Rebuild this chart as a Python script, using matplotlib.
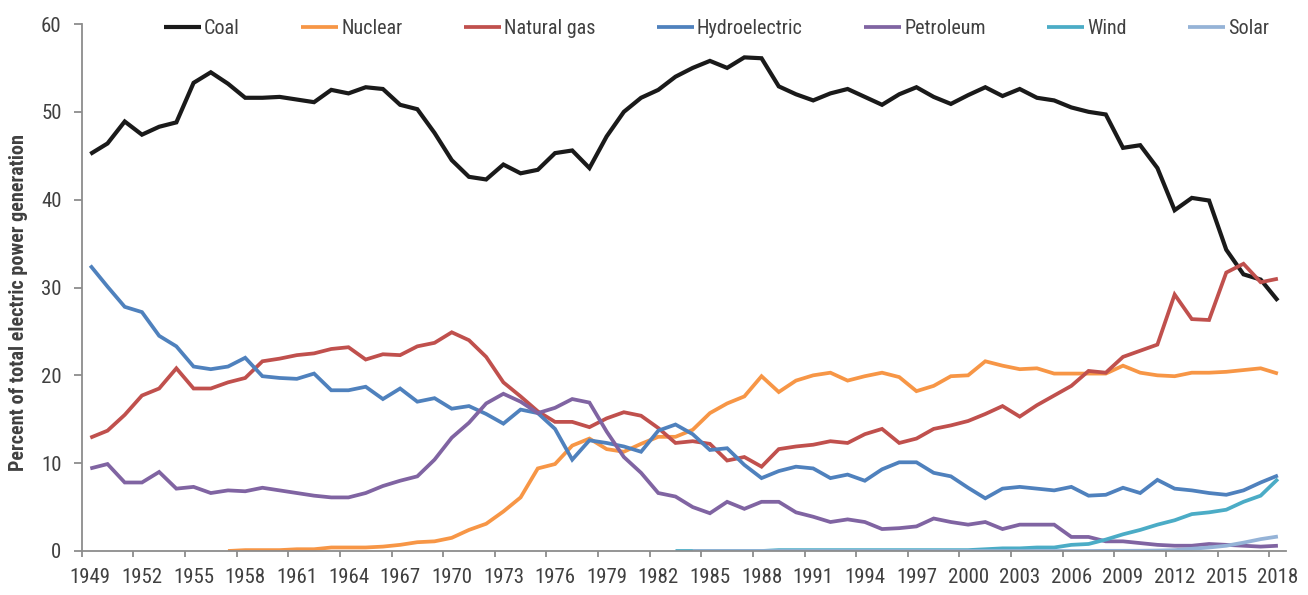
import matplotlib
matplotlib.use("Agg")
import matplotlib.pyplot as plt
import numpy as np
from matplotlib import font_manager

years = list(range(1949, 2019))

coal = [45.2, 46.4, 48.9, 47.4, 48.3, 48.8, 53.3, 54.5, 53.2, 51.6,
        51.6, 51.7, 51.4, 51.1, 52.5, 52.1, 52.8, 52.6, 50.8, 50.3,
        47.6, 44.5, 42.6, 42.3, 44.0, 43.0, 43.4, 45.3, 45.6, 43.6,
        47.2, 50.0, 51.6, 52.5, 54.0, 55.0, 55.8, 55.0, 56.2, 56.1,
        52.9, 52.0, 51.3, 52.1, 52.6, 51.7, 50.8, 52.0, 52.8, 51.7,
        50.9, 51.9, 52.8, 51.8, 52.6, 51.6, 51.3, 50.5, 50.0, 49.7,
        45.9, 46.2, 43.6, 38.8, 40.2, 39.9, 34.3, 31.5, 30.9, 28.5]

nuclear_years = list(range(1957, 2019))
nuclear = [0.0, 0.1, 0.1, 0.1, 0.2, 0.2, 0.4, 0.4, 0.4, 0.5,
           0.7, 1.0, 1.1, 1.5, 2.4, 3.1, 4.5, 6.1, 9.4, 9.9,
           12.0, 12.8, 11.6, 11.3, 12.2, 13.0, 13.0, 13.8, 15.7, 16.8,
           17.6, 19.9, 18.1, 19.4, 20.0, 20.3, 19.4, 19.9, 20.3, 19.8,
           18.2, 18.8, 19.9, 20.0, 21.6, 21.1, 20.7, 20.8, 20.2, 20.2,
           20.2, 20.2, 21.1, 20.3, 20.0, 19.9, 20.3, 20.3, 20.4, 20.6,
           20.8, 20.2]

natural_gas = [12.9, 13.7, 15.5, 17.7, 18.5, 20.8, 18.5, 18.5, 19.2, 19.7,
               21.6, 21.9, 22.3, 22.5, 23.0, 23.2, 21.8, 22.4, 22.3, 23.3,
               23.7, 24.9, 24.0, 22.1, 19.2, 17.6, 15.9, 14.7, 14.7, 14.1,
               15.1, 15.8, 15.4, 14.0, 12.3, 12.5, 12.2, 10.3, 10.7, 9.6,
               11.6, 11.9, 12.1, 12.5, 12.3, 13.3, 13.9, 12.3, 12.8, 13.9,
               14.3, 14.8, 15.6, 16.5, 15.3, 16.6, 17.7, 18.8, 20.5, 20.3,
               22.1, 22.8, 23.5, 29.2, 26.4, 26.3, 31.7, 32.7, 30.6, 31.0]

hydroelectric = [32.5, 30.1, 27.8, 27.2, 24.5, 23.3, 21.0, 20.7, 21.0, 22.0,
                 19.9, 19.7, 19.6, 20.2, 18.3, 18.3, 18.7, 17.3, 18.5, 17.0,
                 17.4, 16.2, 16.5, 15.6, 14.5, 16.1, 15.7, 13.9, 10.4, 12.6,
                 12.3, 11.9, 11.3, 13.7, 14.4, 13.3, 11.5, 11.7, 9.8, 8.3,
                 9.1, 9.6, 9.4, 8.3, 8.7, 8.0, 9.3, 10.1, 10.1, 8.9,
                 8.5, 7.2, 6.0, 7.1, 7.3, 7.1, 6.9, 7.3, 6.3, 6.4,
                 7.2, 6.6, 8.1, 7.1, 6.9, 6.6, 6.4, 6.9, 7.8, 8.6]

petroleum = [9.4, 9.9, 7.8, 7.8, 9.0, 7.1, 7.3, 6.6, 6.9, 6.8,
             7.2, 6.9, 6.6, 6.3, 6.1, 6.1, 6.6, 7.4, 8.0, 8.5,
             10.4, 12.9, 14.6, 16.8, 17.9, 17.0, 15.7, 16.3, 17.3, 16.9,
             13.6, 10.7, 8.9, 6.6, 6.2, 5.0, 4.3, 5.6, 4.8, 5.6,
             5.6, 4.4, 3.9, 3.3, 3.6, 3.3, 2.5, 2.6, 2.8, 3.7,
             3.3, 3.0, 3.3, 2.5, 3.0, 3.0, 3.0, 1.6, 1.6, 1.1,
             1.1, 0.9, 0.7, 0.6, 0.6, 0.8, 0.7, 0.6, 0.5, 0.6]

wind_years = list(range(1983, 2019))
wind = [0.0, 0.0, 0.0, 0.0, 0.0, 0.0, 0.1, 0.1, 0.1, 0.1,
        0.1, 0.1, 0.1, 0.1, 0.1, 0.1, 0.1, 0.1, 0.2, 0.3,
        0.3, 0.4, 0.4, 0.7, 0.8, 1.3, 1.9, 2.4, 3.0, 3.5,
        4.2, 4.4, 4.7, 5.6, 6.3, 8.2]

solar_years = list(range(1984, 2019))
solar = [0.0, 0.0, 0.0, 0.0, 0.0, 0.0, 0.0, 0.0, 0.0, 0.0,
         0.0, 0.0, 0.0, 0.0, 0.0, 0.0, 0.0, 0.0, 0.0, 0.0,
         0.0, 0.0, 0.0, 0.0, 0.02, 0.02, 0.03, 0.05, 0.1, 0.25,
         0.4, 0.6, 0.95, 1.35, 1.65]

tick_label_years = list(range(1949, 2019, 3))
y_ticks = [0, 10, 20, 30, 40, 50, 60]

# fonts
avail = {f.name for f in font_manager.fontManager.ttflist}
cond = [f for f in ["Liberation Sans Narrow", "DejaVu Sans Condensed", "Roboto Condensed", "Open Sans Condensed"] if f in avail]
fam = cond + ["Liberation Sans", "DejaVu Sans"]
plt.rcParams['font.family'] = fam

text_color = "#404040"
axis_color = "#8c8c8c"

fig = plt.figure(figsize=(13.08, 5.95), dpi=100)
ax = fig.add_axes([81.7 / 1308, 1 - 551 / 595, (1286.5 - 81.7) / 1308, (551 - 24) / 595])

series = [
    ("Coal", years, coal, "#1a1a1a", 3.0),
    ("Nuclear", nuclear_years, nuclear, "#F79646", 2.7),
    ("Natural gas", years, natural_gas, "#C0504D", 2.7),
    ("Hydroelectric", years, hydroelectric, "#4F81BD", 2.7),
    ("Petroleum", years, petroleum, "#8064A2", 2.7),
    ("Wind", wind_years, wind, "#4BACC6", 2.7),
    ("Solar", solar_years, solar, "#95B3D7", 2.7),
]
for name, xs, ys, c, lw in series:
    ax.plot(xs, ys, color=c, lw=lw, label=name, solid_joinstyle="miter", solid_capstyle="butt")

ax.set_xlim(1948.5, 2018.5)
ax.set_ylim(0, 60)

for s in ["top", "right"]:
    ax.spines[s].set_visible(False)
for s in ["left", "bottom"]:
    ax.spines[s].set_color(axis_color)
    ax.spines[s].set_linewidth(1.3)

ax.set_xticks([y - 0.5 for y in tick_label_years])
ax.set_xticklabels([])
ax.set_xticks(tick_label_years, minor=True)
ax.set_xticklabels([str(y) for y in tick_label_years], minor=True)
ax.tick_params(axis="x", which="major", direction="out", length=4.5, width=1.3, color=axis_color)
ax.tick_params(axis="x", which="minor", length=0, pad=12, labelsize=15, labelcolor=text_color)

ax.set_yticks(y_ticks)
ax.set_yticklabels([str(v) for v in y_ticks])
ax.tick_params(axis="y", direction="out", length=5.5, width=1.3, color=axis_color,
               pad=9, labelsize=15, labelcolor=text_color)

ax.set_ylabel("Percent of total electric power generation", fontsize=14.5,
              fontweight="bold", color=text_color, labelpad=2)
ax.yaxis.set_label_coords(-0.0448, 0.472)

leg = ax.legend(loc="center", bbox_to_anchor=(0.527, 0.992), ncol=7, frameon=False,
                fontsize=14.5, handlelength=1.84, handletextpad=0.15, columnspacing=3.05,
                labelcolor=text_color, borderpad=0, borderaxespad=0)

fig.savefig("out.png", dpi=100)
